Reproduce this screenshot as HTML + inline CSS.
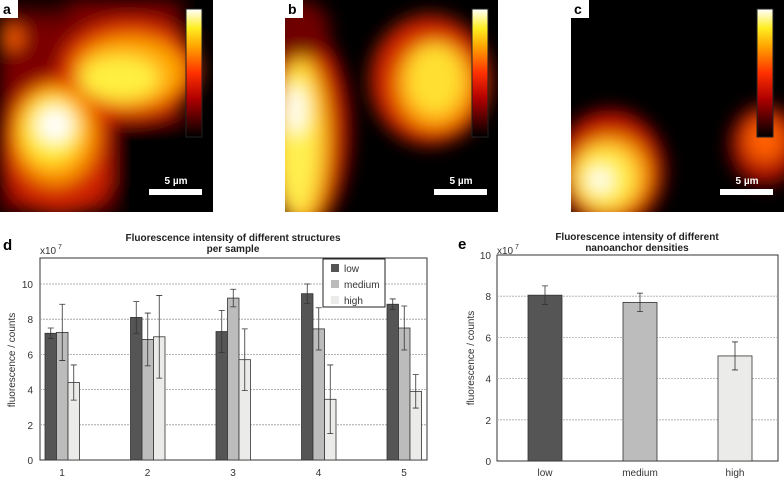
<!DOCTYPE html>
<html><head><meta charset="utf-8"><style>
body{margin:0;background:#fff;width:784px;height:479px;overflow:hidden;font-family:"Liberation Sans",sans-serif}
svg{position:absolute;left:0;top:0}
</style></head><body>
<svg width="784" height="479" viewBox="0 0 784 479">
<defs>
<filter id="bl" x="-50%" y="-50%" width="200%" height="200%"><feGaussianBlur stdDeviation="9"/></filter>
<linearGradient id="cb" x1="0" y1="1" x2="0" y2="0">
<stop offset="0" stop-color="#000"/><stop offset="0.3" stop-color="#b00000"/><stop offset="0.5" stop-color="#ff3000"/><stop offset="0.7" stop-color="#ffa000"/><stop offset="0.85" stop-color="#ffee20"/><stop offset="1" stop-color="#ffffff"/></linearGradient>
<clipPath id="ca"><rect x="0" y="0" width="213" height="212"/></clipPath>
<clipPath id="cbp"><rect x="285" y="0" width="213" height="212"/></clipPath>
<clipPath id="cc"><rect x="571" y="0" width="213" height="212"/></clipPath>
</defs>

<g clip-path="url(#ca)">
<rect x="0" y="0" width="213" height="212" fill="#000"/>
<g filter="url(#bl)">
<rect x="0" y="0" width="180" height="212" fill="#7a0000"/>
<ellipse cx="60" cy="145" rx="60" ry="70" fill="#d02000"/>
<ellipse cx="130" cy="70" rx="70" ry="50" fill="#e03000"/>
<ellipse cx="55" cy="135" rx="42" ry="50" fill="#ff9a00"/>
<ellipse cx="130" cy="72" rx="55" ry="35" fill="#ffa800"/>
<ellipse cx="52" cy="130" rx="30" ry="35" fill="#ffee30"/>
<ellipse cx="120" cy="78" rx="40" ry="22" fill="#fff040"/>
<ellipse cx="55" cy="125" rx="18" ry="18" fill="#ffffff"/>
<ellipse cx="12" cy="38" rx="11" ry="11" fill="#ff6000"/>
<rect x="110" y="120" width="103" height="92" fill="#000"/>
<rect x="0" y="0" width="70" height="20" fill="#300000"/>
<rect x="175" y="0" width="38" height="30" fill="#000"/>
</g>
</g>
<g clip-path="url(#cbp)">
<rect x="285" y="0" width="213" height="212" fill="#000"/>
<g filter="url(#bl)">
<ellipse cx="305" cy="130" rx="45" ry="100" fill="#c01000"/>
<ellipse cx="300" cy="30" rx="30" ry="30" fill="#700000"/>
<ellipse cx="430" cy="80" rx="60" ry="65" fill="#d02000"/>
<ellipse cx="302" cy="140" rx="28" ry="85" fill="#ffb000"/>
<ellipse cx="298" cy="140" rx="20" ry="75" fill="#fff050"/>
<ellipse cx="296" cy="110" rx="10" ry="25" fill="#ffffff"/>
<ellipse cx="435" cy="85" rx="40" ry="45" fill="#ff9a00"/>
<ellipse cx="435" cy="80" rx="28" ry="35" fill="#ffe030"/>
</g>
</g>
<g clip-path="url(#cc)">
<rect x="571" y="0" width="213" height="212" fill="#000"/>
<g filter="url(#bl)">
<ellipse cx="610" cy="170" rx="55" ry="60" fill="#c01000"/>
<ellipse cx="610" cy="175" rx="40" ry="40" fill="#ffa000"/>
<ellipse cx="605" cy="178" rx="30" ry="30" fill="#fff050"/>
<ellipse cx="600" cy="180" rx="12" ry="12" fill="#ffffff"/>
<ellipse cx="765" cy="145" rx="35" ry="40" fill="#b01000"/>
<ellipse cx="765" cy="140" rx="20" ry="22" fill="#ff6000"/>
</g>
</g>

<g><rect x="186" y="9" width="16" height="128" fill="url(#cb)" stroke="#222" stroke-width="1"/></g>
<g><rect x="472" y="9" width="16" height="128" fill="url(#cb)" stroke="#222" stroke-width="1"/></g>
<g><rect x="757" y="9" width="16" height="128" fill="url(#cb)" stroke="#222" stroke-width="1"/></g>
<g font-size="10" font-weight="bold" fill="#fff" text-anchor="middle">
<rect x="149" y="189" width="53" height="6" fill="#fff"/>
<text x="176" y="184">5 µm</text>
<rect x="434" y="189" width="53" height="6" fill="#fff"/>
<text x="461" y="184">5 µm</text>
<rect x="720" y="189" width="53" height="6" fill="#fff"/>
<text x="747" y="184">5 µm</text>
</g>
<g font-size="14" font-weight="bold" fill="#000">
<rect x="0" y="0" width="18" height="18" fill="#fff"/><text x="3" y="14">a</text>
<rect x="285" y="0" width="18" height="18" fill="#fff"/><text x="288" y="14">b</text>
<rect x="571" y="0" width="18" height="18" fill="#fff"/><text x="574" y="14">c</text>
<text x="3" y="250" font-size="15">d</text>
<text x="458" y="249" font-size="15">e</text>
</g>

<g id="chartD"></g>
<g id="chartE"></g>
</svg>
<script>
const dGroups = ["1","2","3","4","5"];
const dSeries = ["low","medium","high"];
const dLow = [7.2, 8.1, 7.3, 9.45, 8.85];
const dMedium = [7.25, 6.85, 9.2, 7.45, 7.5];
const dHigh = [4.4, 7.0, 5.7, 3.45, 3.9];
const dLowErr = [0.3, 0.9, 1.2, 0.55, 0.3];
const dMediumErr = [1.6, 1.5, 0.5, 1.2, 1.25];
const dHighErr = [1.0, 2.35, 1.75, 1.95, 0.95];
const dTicks = [0, 2, 4, 6, 8, 10];
const eCats = ["low","medium","high"];
const eVals = [8.05, 7.7, 5.1];
const eErr = [0.45, 0.45, 0.68];
const eTicks = [0, 2, 4, 6, 8, 10];
const colors = ["#555555","#bcbcbc","#ebecea"];
const NS = "http://www.w3.org/2000/svg";
function mk(parent, tag, attrs, text){
  const el = document.createElementNS(NS, tag);
  for (const k in attrs) el.setAttribute(k, attrs[k]);
  if (text !== undefined) el.textContent = text;
  parent.appendChild(el);
  return el;
}
(function(){
  const g = document.getElementById('chartD');
  const L=40, R=427, T=258, B=460;
  const y = v => B - v*17.6;
  const xc = i => 62 + 85.5*i;
  mk(g,'rect',{x:L,y:T,width:R-L,height:B-T,fill:'#fff',stroke:'#333','stroke-width':1});
  dTicks.forEach(t=>{
    if(t>0){const gl=mk(g,'line',{x1:L,x2:R,y1:y(t),y2:y(t),stroke:'#999','stroke-dasharray':'2,1','stroke-width':0.8});
      
      }
    const tl=mk(g,'text',{x:33,y:y(t)+4,'font-size':10,'text-anchor':'end',fill:'#333'},String(t));
    
    
  });
  const vals=[dLow,dMedium,dHigh], errs=[dLowErr,dMediumErr,dHighErr];
  const offs=[-17,-5.5,6];
  dGroups.forEach((c,i)=>{
    vals.forEach((arr,s)=>{
      const x0=xc(i)+offs[s];
      const b=mk(g,'rect',{x:x0,y:y(arr[i]),width:11.5,height:B-y(arr[i]),fill:colors[s],stroke:'#333','stroke-width':0.8});
      
      
      const cx=x0+5.75, hi=y(arr[i]+errs[s][i]), lo=y(arr[i]-errs[s][i]);
      const eb=mk(g,'path',{d:`M${cx},${hi}V${lo}M${cx-3},${hi}H${cx+3}M${cx-3},${lo}H${cx+3}`,stroke:'#333','stroke-width':0.8,fill:'none'});
      
      
    });
    const xl=mk(g,'text',{x:xc(i),y:476,'font-size':10,'text-anchor':'middle',fill:'#333'},c);
    
    
  });
  const ex=mk(g,'text',{x:40,y:254,'font-size':10,fill:'#333'},'x10');
  
  
  mk(g,'text',{x:58,y:249,'font-size':7,fill:'#333'},'7');
  const t1=mk(g,'text',{x:233,y:241,'font-size':10,'font-weight':'bold','text-anchor':'middle',fill:'#222'},'Fluorescence intensity of different structures');
  
  
  mk(g,'text',{x:233,y:252,'font-size':10,'font-weight':'bold','text-anchor':'middle',fill:'#222'},'per sample');
  const at=mk(g,'text',{transform:'translate(15,360) rotate(-90)','font-size':10,'text-anchor':'middle',fill:'#333'},'fluorescence / counts');
  
  
  const lg=mk(g,'g',{});
  
  
  mk(lg,'rect',{x:323,y:259,width:62,height:48,fill:'#fff',stroke:'#222','stroke-width':1});
  dSeries.forEach((s,k)=>{
    const e=mk(lg,'g',{});
    
    
    mk(e,'rect',{x:331,y:264+k*16,width:8,height:8,fill:colors[k]});
    mk(e,'text',{x:344,y:272+k*16,'font-size':10,fill:'#333'},s);
  });
})();
(function(){
  const g = document.getElementById('chartE');
  const L=497, R=778, T=255, B=461;
  const y = v => B - v*20.6;
  const xc = i => 545 + 95*i;
  mk(g,'rect',{x:L,y:T,width:R-L,height:B-T,fill:'#fff',stroke:'#333','stroke-width':1});
  eTicks.forEach(t=>{
    if(t>0&&t<10){const gl=mk(g,'line',{x1:L,x2:R,y1:y(t),y2:y(t),stroke:'#aaa','stroke-dasharray':'2,1','stroke-width':0.8});
      
      }
    const tl=mk(g,'text',{x:491,y:y(t)+4,'font-size':10,'text-anchor':'end',fill:'#333'},String(t));
    
    
  });
  eCats.forEach((c,i)=>{
    const b=mk(g,'rect',{x:xc(i)-17,y:y(eVals[i]),width:34,height:B-y(eVals[i]),fill:colors[i],stroke:'#333','stroke-width':0.8});
    
    
    const cx=xc(i), hi=y(eVals[i]+eErr[i]), lo=y(eVals[i]-eErr[i]);
    const eb=mk(g,'path',{d:`M${cx},${hi}V${lo}M${cx-3},${hi}H${cx+3}M${cx-3},${lo}H${cx+3}`,stroke:'#333','stroke-width':0.8,fill:'none'});
    
    
    const xl=mk(g,'text',{x:xc(i),y:476,'font-size':10,'text-anchor':'middle',fill:'#333'},c);
    
    
  });
  const ex=mk(g,'text',{x:497,y:254,'font-size':10,fill:'#333'},'x10');
  
  
  mk(g,'text',{x:515,y:249,'font-size':7,fill:'#333'},'7');
  const t1=mk(g,'text',{x:637,y:240,'font-size':10,'font-weight':'bold','text-anchor':'middle',fill:'#222'},'Fluorescence intensity of different');
  
  
  mk(g,'text',{x:637,y:251,'font-size':10,'font-weight':'bold','text-anchor':'middle',fill:'#222'},'nanoanchor densities');
  const at=mk(g,'text',{transform:'translate(474,358) rotate(-90)','font-size':10,'text-anchor':'middle',fill:'#333'},'fluorescence / counts');
  
  
})();
</script>
</body></html>
